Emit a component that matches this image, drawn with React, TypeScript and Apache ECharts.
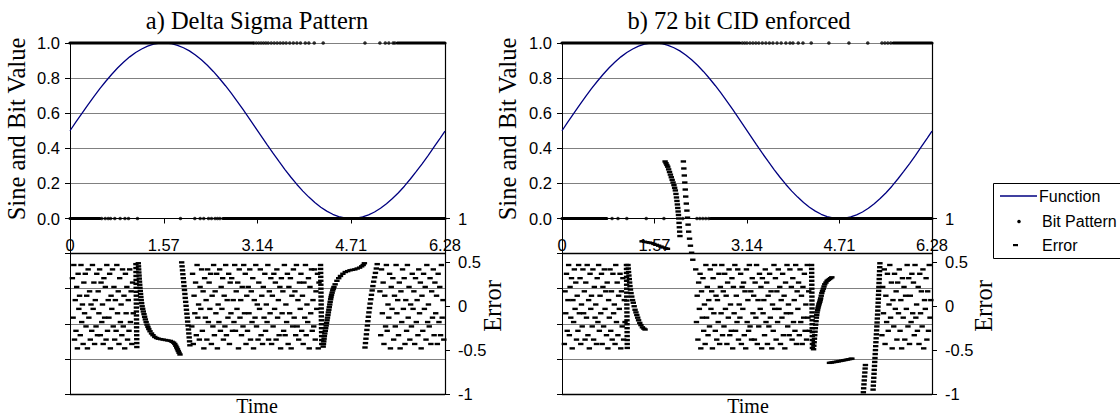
import React, { useEffect, useRef } from "react";
import * as echarts from "echarts";

// ---------- Function (sine) ----------
const sineX = [0, 0.1, 0.2, 0.3, 0.4, 0.5, 0.6, 0.7, 0.8, 0.9, 1.0, 1.1, 1.2, 1.3, 1.4, 1.5, 1.6, 1.7, 1.8, 1.9, 2.0, 2.1, 2.2, 2.3, 2.4, 2.5, 2.6, 2.7, 2.8, 2.9, 3.0, 3.1, 3.2, 3.3, 3.4, 3.5, 3.6, 3.7, 3.8, 3.9, 4.0, 4.1, 4.2, 4.3, 4.4, 4.5, 4.6, 4.7, 4.8, 4.9, 5.0, 5.1, 5.2, 5.3, 5.4, 5.5, 5.6, 5.7, 5.8, 5.9, 6.0, 6.1, 6.2, 6.28];
const sineY = [0.5, 0.55, 0.599, 0.648, 0.695, 0.74, 0.782, 0.822, 0.859, 0.892, 0.921, 0.946, 0.966, 0.982, 0.993, 0.999, 1.0, 0.996, 0.987, 0.973, 0.955, 0.932, 0.904, 0.873, 0.838, 0.799, 0.758, 0.714, 0.668, 0.62, 0.571, 0.521, 0.471, 0.421, 0.372, 0.325, 0.279, 0.235, 0.194, 0.156, 0.122, 0.091, 0.064, 0.042, 0.024, 0.011, 0.003, 0.0, 0.002, 0.009, 0.021, 0.037, 0.058, 0.084, 0.114, 0.147, 0.184, 0.225, 0.268, 0.313, 0.36, 0.409, 0.458, 0.498];

// ---------- Bit pattern ----------
const bitOneRunsA = [[0, 3.06], [5.48, 6.28]];
const bitOneDotsA = [3.08, 3.12, 3.16, 3.2, 3.24, 3.28, 3.32, 3.37, 3.42, 3.47, 3.52, 3.57, 3.62, 3.68, 3.74, 3.8, 3.86, 3.94, 4.0, 4.09, 4.24, 4.94, 5.19, 5.28, 5.34, 5.41, 5.44];
const bitZeroRunsA = [[0, 0.5], [2.56, 6.28]];
const bitZeroDotsA = [0.53, 0.59, 0.64, 0.68, 0.75, 0.84, 0.92, 0.98, 1.13, 1.85, 2.09, 2.18, 2.24, 2.32, 2.37, 2.43, 2.47, 2.51];

const bitOneRunsB = [[0, 3.02], [5.62, 6.28]];
const bitOneDotsB = [3.06, 3.1, 3.14, 3.19, 3.24, 3.29, 3.34, 3.4, 3.46, 3.52, 3.58, 3.65, 3.72, 3.8, 3.87, 3.92, 4.01, 4.09, 4.23, 4.53, 4.87, 5.19, 5.43, 5.48, 5.53, 5.58];
const bitZeroRunsB = [[0, 0.76], [2.52, 6.28]];
const bitZeroDotsB = [0.85, 0.95, 1.1, 1.43, 1.73, 2.05, 2.29, 2.34, 2.39, 2.44, 2.49];

// ---------- Error: noisy blocks (values spread across sample span) ----------
const errA1Span = [0.04, 1.06];
const errA1 = [0.32, -0.13, 0.47, -0.38, 0.07, -0.28, 0.22, -0.48, 0.37, -0.03, 0.12, -0.33, 0.47, -0.18, 0.02, -0.43, 0.27, -0.08, 0.37, -0.23, 0.12, -0.48, 0.42, -0.13, 0.17, -0.38, 0.02, -0.28, 0.47, -0.03, 0.27, -0.43, 0.07, -0.23, 0.37, -0.33, 0.17, -0.08, 0.42, -0.33, 0.27, -0.18, 0.02, -0.43, 0.32, -0.13, 0.22, -0.38, 0.47, -0.28, 0.07, -0.13, 0.37, -0.48, 0.12, -0.03, 0.42, -0.23, 0.22, -0.38, 0.07, -0.28, 0.47, -0.08, 0.17, -0.43, 0.32, -0.18, 0.02, -0.33, 0.42, -0.23, 0.12, -0.48, 0.37, -0.08, 0.22, -0.38, 0.07, -0.28, 0.42, -0.18, 0.17, -0.43, 0.27, -0.08];
const errA2Span = [2.04, 4.17];
const errA2 = [-0.23, 0.37, -0.43, 0.12, -0.08, 0.27, -0.33, 0.47, -0.13, 0.02, -0.38, 0.22, -0.03, 0.42, -0.28, 0.17, -0.48, 0.32, -0.13, 0.07, -0.38, 0.42, -0.18, 0.27, -0.03, 0.37, -0.43, 0.12, -0.23, 0.47, -0.33, 0.17, -0.08, 0.37, -0.48, 0.02, -0.18, 0.42, -0.28, 0.22, -0.03, 0.32, -0.38, 0.12, -0.23, 0.47, -0.33, 0.07, -0.13, 0.37, -0.43, 0.27, -0.08, 0.32, -0.28, 0.07, -0.18, 0.47, -0.28, 0.17, -0.03, 0.27, -0.48, 0.42, -0.13, 0.07, -0.33, 0.22, -0.23, 0.47, -0.08, 0.37, -0.43, 0.12, -0.28, 0.22, -0.08, 0.42, -0.38, 0.17, -0.18, 0.32, -0.48, 0.07, -0.13, 0.47, -0.23, 0.02, -0.38, 0.27, -0.03, 0.42, -0.33, 0.12, -0.43, 0.22, -0.13, 0.37, -0.28, 0.02, -0.18, 0.47, -0.38, 0.17, -0.08, 0.32, -0.43, 0.12, -0.23, 0.37, -0.03, 0.27, -0.38, 0.42, -0.13, 0.07, -0.33, 0.22, -0.48, 0.32, -0.08, 0.17, -0.28, 0.47, -0.33, 0.02, -0.18, 0.37, -0.43, 0.22, -0.08, 0.32, -0.48, 0.12, -0.23, 0.42, -0.13, 0.17, -0.33, 0.47, -0.23, 0.07, -0.38, 0.27, -0.03, 0.37, -0.28, 0.12, -0.43, 0.27, -0.13, 0.47, -0.33, 0.02, -0.18, 0.32, -0.48, 0.22, -0.08, 0.42, -0.28, 0.07, -0.23, 0.42, -0.38, 0.17, -0.03, 0.37, -0.48, 0.27];
const errA3Span = [5.19, 6.26];
const errA3 = [0.17, -0.33, 0.42, -0.08, 0.27, -0.43, 0.12, -0.23, 0.47, -0.28, 0.02, -0.13, 0.37, -0.48, 0.22, -0.03, 0.32, -0.38, 0.12, -0.23, 0.47, -0.08, 0.07, -0.33, 0.27, -0.48, 0.17, -0.18, 0.42, -0.03, 0.32, -0.43, 0.07, -0.28, 0.47, -0.13, 0.22, -0.38, 0.02, -0.23, 0.37, -0.03, 0.17, -0.43, 0.32, -0.18, 0.07, -0.33, 0.42, -0.08, 0.27, -0.48, 0.12, -0.28, 0.37, -0.03, 0.22, -0.38, 0.47, -0.18, 0.02, -0.23, 0.32, -0.43, 0.17, -0.13, 0.42, -0.33, 0.27, -0.08, 0.12, -0.43, 0.37, -0.18, 0.22, -0.33, 0.47, -0.13, 0.07, -0.38];

const errB1Span = [0.04, 1.07];
const errB1 = [-0.43, 0.17, -0.08, 0.37, -0.28, 0.07, 0.47, -0.33, 0.22, -0.13, 0.32, -0.48, 0.07, -0.18, 0.42, -0.03, 0.27, -0.38, 0.12, -0.28, 0.47, -0.08, 0.32, -0.43, 0.02, -0.23, 0.42, -0.08, 0.17, -0.38, 0.27, -0.13, 0.47, -0.33, 0.07, -0.48, 0.37, -0.03, 0.12, -0.23, 0.42, -0.38, 0.22, -0.13, 0.02, -0.43, 0.32, -0.18, 0.47, -0.28, 0.12, -0.08, 0.37, -0.43, 0.22, -0.23, 0.42, -0.03, 0.17, -0.33, 0.27, -0.48, 0.07, -0.13, 0.42, -0.28, 0.17, -0.38, 0.37, -0.08, 0.02, -0.43, 0.47, -0.18, 0.27, -0.33, 0.12, -0.03, 0.37, -0.48, 0.17, -0.23, 0.32, -0.38, 0.07, -0.18];
const errB2Span = [2.27, 4.2];
const errB2 = [0.42, -0.18, 0.12, -0.38, 0.27, -0.03, 0.37, -0.48, 0.17, -0.13, 0.32, -0.28, 0.02, -0.43, 0.47, -0.13, 0.22, -0.33, 0.07, -0.23, 0.42, -0.03, 0.17, -0.48, 0.32, -0.08, 0.47, -0.28, 0.12, -0.38, 0.07, -0.18, 0.37, -0.43, 0.22, -0.08, 0.47, -0.33, 0.17, -0.23, 0.37, -0.03, 0.12, -0.43, 0.27, -0.13, 0.42, -0.33, 0.02, -0.28, 0.32, -0.48, 0.22, -0.08, 0.47, -0.28, 0.12, -0.18, 0.42, -0.38, 0.02, -0.13, 0.37, -0.43, 0.22, -0.03, 0.27, -0.33, 0.17, -0.48, 0.42, -0.18, 0.07, -0.28, 0.47, -0.23, 0.17, -0.38, 0.32, -0.08, 0.12, -0.38, 0.27, -0.13, 0.47, -0.43, 0.07, -0.23, 0.37, -0.03, 0.22, -0.48, 0.32, -0.08, 0.07, -0.33, 0.42, -0.18, 0.27, -0.43, 0.12, -0.23, 0.37, -0.13, 0.17, -0.48, 0.02, -0.28, 0.47, -0.03, 0.32, -0.38, 0.17, -0.18, 0.42, -0.03, 0.22, -0.43, 0.07, -0.13, 0.37, -0.33, 0.12, -0.48, 0.27, -0.08, 0.47, -0.23, 0.02, -0.33, 0.42, -0.08, 0.22, -0.38, 0.32, -0.18, 0.07, -0.28, 0.47, -0.43, 0.17, -0.03, 0.27, -0.33, 0.42, -0.18, 0.12, -0.43, 0.22, -0.13, 0.37, -0.28, 0.02, -0.38, 0.47, -0.13, 0.17, -0.28];
const errB3Span = [5.43, 6.26];
const errB3 = [-0.33, 0.22, -0.08, 0.42, -0.43, 0.12, -0.18, 0.37, -0.28, 0.02, 0.47, -0.13, 0.27, -0.48, 0.07, -0.23, 0.37, -0.03, 0.17, -0.38, 0.27, -0.08, 0.42, -0.28, 0.07, -0.48, 0.32, -0.13, 0.22, -0.38, 0.12, -0.03, 0.47, -0.23, 0.32, -0.43, 0.12, -0.18, 0.37, -0.08, 0.27, -0.33, 0.47, -0.13, 0.02, -0.28, 0.22, -0.43, 0.37, -0.08, 0.17, -0.23, 0.42, -0.48, 0.07, -0.03, 0.32, -0.38, 0.17, -0.28, 0.47, -0.13, 0.07];

// ---------- Error: columns and smooth runs [time, error] ----------
const errA1Edge = [[1.104, 0.48], [1.105, 0.435], [1.105, 0.39], [1.106, 0.345], [1.107, 0.3], [1.107, 0.255], [1.108, 0.21], [1.109, 0.165], [1.11, 0.12], [1.11, 0.075], [1.111, 0.03], [1.112, -0.015], [1.112, -0.06], [1.113, -0.105], [1.114, -0.15], [1.115, -0.195], [1.115, -0.24], [1.116, -0.285], [1.117, -0.33], [1.118, -0.375], [1.118, -0.42], [1.119, -0.465]];
const errA1Curve = [[1.144, 0.49], [1.147, 0.455], [1.15, 0.42], [1.153, 0.385], [1.157, 0.35], [1.16, 0.315], [1.164, 0.28], [1.168, 0.245], [1.172, 0.21], [1.177, 0.175], [1.182, 0.14], [1.187, 0.105], [1.193, 0.07], [1.2, 0.035], [1.208, 0.0], [1.218, -0.03], [1.228, -0.06], [1.239, -0.09], [1.25, -0.12], [1.262, -0.15], [1.275, -0.18], [1.29, -0.21], [1.305, -0.235], [1.32, -0.26], [1.34, -0.285], [1.365, -0.31], [1.39, -0.33], [1.42, -0.35], [1.45, -0.362], [1.48, -0.37], [1.52, -0.375], [1.56, -0.38], [1.6, -0.385], [1.64, -0.39], [1.68, -0.395], [1.71, -0.405], [1.735, -0.415], [1.755, -0.43], [1.772, -0.45], [1.787, -0.47], [1.8, -0.49], [1.813, -0.51], [1.827, -0.53], [1.842, -0.55]];
const errA2Lead = [[1.87, 0.5], [1.877, 0.455], [1.884, 0.41], [1.89, 0.365], [1.897, 0.32], [1.904, 0.275], [1.91, 0.23], [1.917, 0.185], [1.924, 0.14], [1.93, 0.095], [1.937, 0.05], [1.944, 0.005], [1.95, -0.04], [1.957, -0.085], [1.964, -0.13], [1.97, -0.175], [1.977, -0.22], [1.984, -0.265], [1.99, -0.31], [1.996, -0.355], [2.002, -0.4], [2.008, -0.445]];
const errA2Edge = [[4.196, 0.47], [4.197, 0.425], [4.198, 0.38], [4.199, 0.335], [4.2, 0.29], [4.201, 0.245], [4.202, 0.2], [4.203, 0.155], [4.204, 0.11], [4.205, 0.065], [4.206, 0.02], [4.207, -0.025], [4.208, -0.07], [4.209, -0.115], [4.21, -0.16], [4.211, -0.205], [4.212, -0.25], [4.213, -0.295], [4.214, -0.34], [4.215, -0.385], [4.216, -0.43]];
const errA2Curve = [[4.24, -0.46], [4.245, -0.43], [4.25, -0.4], [4.255, -0.37], [4.26, -0.34], [4.267, -0.31], [4.275, -0.28], [4.282, -0.25], [4.29, -0.22], [4.297, -0.19], [4.305, -0.16], [4.312, -0.13], [4.32, -0.1], [4.327, -0.07], [4.335, -0.04], [4.342, -0.01], [4.35, 0.02], [4.357, 0.05], [4.365, 0.08], [4.372, 0.105], [4.38, 0.13], [4.39, 0.155], [4.4, 0.18], [4.41, 0.2], [4.42, 0.22], [4.44, 0.25], [4.47, 0.29], [4.5, 0.32], [4.53, 0.345], [4.57, 0.37], [4.61, 0.39], [4.65, 0.4], [4.69, 0.41], [4.73, 0.415], [4.77, 0.42], [4.81, 0.43], [4.85, 0.44], [4.885, 0.455], [4.91, 0.47], [4.93, 0.49]];
const errA3Lead = [[4.94, -0.47], [4.948, -0.42], [4.956, -0.37], [4.964, -0.32], [4.972, -0.27], [4.98, -0.22], [4.988, -0.17], [4.997, -0.12], [5.006, -0.07], [5.016, -0.02], [5.026, 0.03], [5.037, 0.08], [5.048, 0.13], [5.06, 0.18], [5.072, 0.23], [5.085, 0.28], [5.1, 0.33], [5.115, 0.38], [5.13, 0.43], [5.145, 0.48]];

const errB1Edge = [[1.094, 0.47], [1.095, 0.425], [1.095, 0.38], [1.096, 0.335], [1.097, 0.29], [1.097, 0.245], [1.098, 0.2], [1.099, 0.155], [1.099, 0.11], [1.1, 0.065], [1.101, 0.02], [1.101, -0.025], [1.102, -0.07], [1.103, -0.115], [1.103, -0.16], [1.104, -0.205], [1.105, -0.25], [1.105, -0.295], [1.106, -0.34], [1.107, -0.385], [1.107, -0.43], [1.108, -0.475]];
const errB1Curve = [[1.12, 0.47], [1.125, 0.43], [1.13, 0.39], [1.136, 0.35], [1.142, 0.31], [1.148, 0.27], [1.154, 0.23], [1.162, 0.19], [1.172, 0.15], [1.184, 0.11], [1.197, 0.07], [1.21, 0.04], [1.225, 0.0], [1.24, -0.04], [1.255, -0.07], [1.27, -0.1], [1.285, -0.13], [1.3, -0.16], [1.32, -0.19], [1.34, -0.215], [1.365, -0.24], [1.39, -0.255], [1.41, -0.265]];
const errB1Jump = [[1.36, 0.74], [1.4, 0.735], [1.44, 0.73], [1.48, 0.725], [1.52, 0.72], [1.56, 0.71], [1.6, 0.7], [1.64, 0.69], [1.68, 0.68], [1.72, 0.67], [1.76, 0.66], [1.79, 0.655]];
const errB1High = [[1.75, 1.65], [1.765, 1.63], [1.78, 1.61], [1.795, 1.59], [1.81, 1.56], [1.825, 1.53], [1.84, 1.5], [1.855, 1.47], [1.87, 1.44], [1.885, 1.41], [1.9, 1.38], [1.912, 1.35], [1.924, 1.32], [1.934, 1.28], [1.943, 1.24], [1.951, 1.2], [1.958, 1.16], [1.965, 1.12], [1.971, 1.08], [1.977, 1.04], [1.982, 1.0], [1.987, 0.95], [1.992, 0.9], [1.997, 0.85], [2.002, 0.8]];
const errB2Lead = [[2.06, 1.65], [2.068, 1.57], [2.076, 1.49], [2.084, 1.41], [2.092, 1.33], [2.1, 1.25], [2.11, 1.17], [2.12, 1.09], [2.13, 1.01], [2.14, 0.93], [2.15, 0.85], [2.165, 0.77], [2.18, 0.69], [2.2, 0.61], [2.22, 0.53]];
const errB2Edge = [[4.236, 0.47], [4.237, 0.425], [4.238, 0.38], [4.238, 0.335], [4.239, 0.29], [4.24, 0.245], [4.24, 0.2], [4.241, 0.155], [4.242, 0.11], [4.242, 0.065], [4.243, 0.02], [4.244, -0.025], [4.244, -0.07], [4.245, -0.115], [4.246, -0.16], [4.246, -0.205], [4.247, -0.25], [4.248, -0.295], [4.248, -0.34], [4.249, -0.385], [4.25, -0.43], [4.25, -0.475]];
const errB2Curve = [[4.27, -0.49], [4.275, -0.45], [4.28, -0.41], [4.285, -0.37], [4.29, -0.33], [4.295, -0.29], [4.3, -0.25], [4.306, -0.21], [4.312, -0.17], [4.318, -0.13], [4.324, -0.1], [4.33, -0.07], [4.338, -0.045], [4.345, -0.02], [4.353, 0.0], [4.36, 0.02], [4.368, 0.035], [4.375, 0.05], [4.383, 0.07], [4.39, 0.09], [4.4, 0.12], [4.41, 0.15], [4.422, 0.175], [4.435, 0.2], [4.447, 0.225], [4.46, 0.25], [4.48, 0.27], [4.5, 0.29], [4.52, 0.3], [4.54, 0.31], [4.56, 0.32], [4.58, 0.33]];
const errB2Low = [[4.54, -0.645], [4.57, -0.642], [4.6, -0.638], [4.63, -0.635], [4.66, -0.632], [4.69, -0.628], [4.72, -0.624], [4.75, -0.62], [4.78, -0.616], [4.81, -0.612], [4.84, -0.608], [4.87, -0.604], [4.9, -0.6], [4.92, -0.597]];
const errB3Drop = [[5.115, -0.98], [5.12, -0.935], [5.125, -0.89], [5.13, -0.845], [5.135, -0.8], [5.14, -0.755], [5.145, -0.71], [5.15, -0.67]];
const errB3Lead = [[5.28, -0.95], [5.284, -0.905], [5.288, -0.86], [5.292, -0.815], [5.296, -0.77], [5.3, -0.725], [5.304, -0.68], [5.308, -0.635], [5.312, -0.59], [5.316, -0.545], [5.32, -0.5], [5.324, -0.455], [5.328, -0.41], [5.332, -0.365], [5.336, -0.32], [5.34, -0.275], [5.344, -0.23], [5.348, -0.185], [5.352, -0.14], [5.356, -0.095], [5.36, -0.05], [5.363, -0.005], [5.366, 0.04], [5.369, 0.085], [5.372, 0.13], [5.375, 0.175], [5.378, 0.22], [5.381, 0.265], [5.384, 0.31], [5.387, 0.355], [5.39, 0.4], [5.393, 0.445], [5.396, 0.49]];

// ---------- Axes ----------
const timeTicks = [0, 1.57, 3.14, 4.71, 6.28];
const errorTickValues = [-1, -0.5, 0, 0.5, 1];
const panelTitles = ["a) Delta Sigma Pattern", "b) 72 bit CID enforced"];

const SANS = "Liberation Sans, Arial, sans-serif";
const SERIF = "Liberation Serif, Times New Roman, serif";

function spread(span: number[], vals: number[]) {
  const n = vals.length;
  return vals.map((v, i) => [span[0] + ((span[1] - span[0]) * i) / (n - 1), v]);
}

function buildPanel(p: number, bits: any, errorPts: number[][]) {
  const series: any[] = [];
  const xi = p;
  const yl = p * 2;
  const yr = p * 2 + 1;
  series.push({
    name: "Function",
    type: "line",
    xAxisIndex: xi,
    yAxisIndex: yl,
    data: sineX.map((x, i) => [x, sineY[i]]),
    symbol: "none",
    lineStyle: { color: "#000080", width: 1.3 },
    z: 3,
    markLine: {
      silent: true,
      symbol: "none",
      label: { show: false },
      lineStyle: { color: "#000", width: 1.3, type: "solid" },
      data: [{ yAxis: -0.2 }, { yAxis: -1 }],
    },
  });
  const runs = [
    ...bits.oneRuns.map((r: number[]) => [[r[0], 1], [r[1], 1]]),
    ...bits.zeroRuns.map((r: number[]) => [[r[0], 0], [r[1], 0]]),
  ];
  runs.forEach((d: number[][]) => {
    series.push({
      name: "Bit Pattern",
      type: "line",
      xAxisIndex: xi,
      yAxisIndex: yl,
      data: d,
      symbol: "none",
      clip: false,
      lineStyle: { color: "#000", width: 3.2, cap: "round" },
      z: 4,
    });
  });
  series.push({
    name: "Bit Pattern",
    type: "scatter",
    xAxisIndex: xi,
    yAxisIndex: yl,
    data: [...bits.oneDots.map((x: number) => [x, 1]), ...bits.zeroDots.map((x: number) => [x, 0])],
    symbol: "circle",
    symbolSize: 3.6,
    clip: false,
    itemStyle: { color: "#000" },
    z: 4,
  });
  series.push({
    name: "Error",
    type: "scatter",
    xAxisIndex: xi,
    yAxisIndex: yr,
    data: errorPts,
    symbol: "rect",
    symbolSize: [5.4, 2.4],
    itemStyle: { color: "#000", opacity: 1 },
    z: 5,
  });
  return series;
}

function buildOption() {
  const grids = [
    { left: 70, top: 43, width: 375, height: 351 },
    { left: 562, top: 43, width: 370, height: 351 },
  ];
  const xAxes = grids.map((_, i) => ({
    type: "value",
    gridIndex: i,
    min: timeTicks[0],
    max: timeTicks[timeTicks.length - 1],
    interval: 1.57,
    position: "bottom",
    offset: -175.5,
    axisLine: { show: true, onZero: false, lineStyle: { color: "#000", width: 1 } },
    axisTick: { show: true, length: 5, lineStyle: { color: "#000" } },
    axisLabel: {
      show: true,
      margin: 18,
      fontSize: 16.5,
      fontFamily: SANS,
      color: "#000",
      showMinLabel: true,
      showMaxLabel: true,
      formatter: (v: number) => (Math.abs(v) < 1e-9 ? "0" : v.toFixed(2)),
    },
    splitLine: { show: false },
  }));
  const yAxes: any[] = [];
  grids.forEach((_, i) => {
    yAxes.push({
      type: "value",
      gridIndex: i,
      position: "left",
      min: -1,
      max: 1,
      interval: 0.2,
      axisLine: { show: true, onZero: false, lineStyle: { color: "#000", width: 1 } },
      axisTick: { show: true, length: 5, lineStyle: { color: "#000" } },
      axisLabel: {
        margin: 10,
        fontSize: 16.5,
        fontFamily: SANS,
        color: "#000",
        formatter: (v: number) => (v > -0.05 ? (Math.abs(v) < 1e-9 ? "0.0" : v.toFixed(1)) : ""),
      },
      splitLine: { show: true, lineStyle: { color: "#808080", width: 1 } },
    });
    yAxes.push({
      type: "value",
      gridIndex: i,
      position: "right",
      min: -1,
      max: 3,
      interval: 0.5,
      axisLine: { show: true, onZero: false, lineStyle: { color: "#000", width: 1.2 } },
      axisTick: { show: true, length: 5, customValues: errorTickValues, lineStyle: { color: "#000" } },
      axisLabel: {
        margin: 13,
        fontSize: 16.5,
        fontFamily: SANS,
        color: "#000",
        customValues: errorTickValues,
        formatter: (v: number) => String(v),
      },
      splitLine: { show: false },
    });
  });

  const errA = [
    ...spread(errA1Span, errA1), ...errA1Edge, ...errA1Curve, ...errA2Lead,
    ...spread(errA2Span, errA2), ...errA2Edge, ...errA2Curve, ...errA3Lead,
    ...spread(errA3Span, errA3),
  ];
  const errB = [
    ...spread(errB1Span, errB1), ...errB1Edge, ...errB1Curve, ...errB1Jump, ...errB1High, ...errB2Lead,
    ...spread(errB2Span, errB2), ...errB2Edge, ...errB2Curve, ...errB2Low, ...errB3Drop, ...errB3Lead,
    ...spread(errB3Span, errB3),
  ];

  const series = [
    ...buildPanel(0, { oneRuns: bitOneRunsA, oneDots: bitOneDotsA, zeroRuns: bitZeroRunsA, zeroDots: bitZeroDotsA }, errA),
    ...buildPanel(1, { oneRuns: bitOneRunsB, oneDots: bitOneDotsB, zeroRuns: bitZeroRunsB, zeroDots: bitZeroDotsB }, errB),
  ];

  const textStyle = (text: string, fs: number) => ({ text, fill: "#000", font: `${fs}px ${SERIF}`, align: "center", verticalAlign: "middle" });
  const graphic: any[] = [
    { type: "text", x: 257, y: 20, style: textStyle(panelTitles[0], 24.5) },
    { type: "text", x: 739, y: 20, style: textStyle(panelTitles[1], 24.5) },
    { type: "text", x: 16, y: 129, rotation: Math.PI / 2, style: textStyle("Sine and Bit Value", 24.5) },
    { type: "text", x: 507, y: 129, rotation: Math.PI / 2, style: textStyle("Sine and Bit Value", 24.5) },
    { type: "text", x: 492, y: 306, rotation: Math.PI / 2, style: textStyle("Error", 24.5) },
    { type: "text", x: 983, y: 306, rotation: Math.PI / 2, style: textStyle("Error", 24.5) },
    { type: "text", x: 257, y: 406, style: textStyle("Time", 20) },
    { type: "text", x: 748, y: 406, style: textStyle("Time", 20) },
    // legend
    { type: "rect", shape: { x: 993.5, y: 183.5, width: 140, height: 75 }, style: { fill: "#fff", stroke: "#000", lineWidth: 1 }, z: 10 },
    { type: "line", shape: { x1: 1000, y1: 196, x2: 1037, y2: 196 }, style: { stroke: "#000080", lineWidth: 1.3 }, z: 11 },
    { type: "text", x: 1039, y: 196, z: 11, style: { text: "Function", fill: "#000", font: `16px ${SANS}`, verticalAlign: "middle" } },
    { type: "circle", shape: { cx: 1019, cy: 221.5, r: 1.8 }, style: { fill: "#000" }, z: 11 },
    { type: "text", x: 1042, y: 221.5, z: 11, style: { text: "Bit Pattern", fill: "#000", font: `16px ${SANS}`, verticalAlign: "middle" } },
    { type: "rect", shape: { x: 1013, y: 244, width: 5, height: 2.2 }, style: { fill: "#000" }, z: 11 },
    { type: "text", x: 1042, y: 245, z: 11, style: { text: "Error", fill: "#000", font: `16px ${SANS}`, verticalAlign: "middle" } },
  ];

  return {
    animation: false,
    backgroundColor: "#fff",
    grid: grids,
    xAxis: xAxes,
    yAxis: yAxes,
    series,
    graphic,
  };
}

export default function App() {
  const ref = useRef<HTMLDivElement>(null);
  useEffect(() => {
    if (!ref.current) return;
    const chart = echarts.init(ref.current, null, { renderer: "svg" });
    chart.setOption(buildOption() as any);
    return () => chart.dispose();
  }, []);
  return <div ref={ref} style={{ position: "absolute", left: 0, top: 0, width: 1120, height: 418 }} />;
}
